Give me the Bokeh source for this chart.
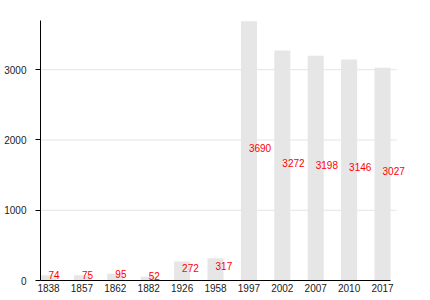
from bokeh.plotting import figure
from bokeh.models import Range1d, FixedTicker, ColumnDataSource
from bokeh.embed import file_html
from bokeh.resources import INLINE
from bokeh.core.properties import value

years = ["1838", "1857", "1862", "1882", "1926", "1958", "1997", "2002", "2007", "2010", "2017"]
population = [74, 75, 95, 52, 272, 317, 3690, 3272, 3198, 3146, 3027]
y_ticks = [0, 1000, 2000, 3000]
grid_levels = [1000, 2000, 3000]

idx = list(range(len(years)))
src = ColumnDataSource(dict(
    x=idx,
    top=population,
    mid=[v / 2 for v in population],
    lab=[str(v) for v in population],
))

x_lo, x_hi = -0.24, 10.24          # span of the category axis
p = figure(width=430, height=300, output_backend="svg", toolbar_location=None,
           x_range=Range1d(x_lo, 11.137), y_range=Range1d(0, 3700),
           min_border_left=40, min_border_right=10, min_border_top=20, min_border_bottom=20)
p.outline_line_color = None
p.background_fill_color = "white"
p.border_fill_color = "white"

# horizontal grid lines (limited to the axis span)
p.segment(x0=[x_lo] * len(grid_levels), x1=[10.42] * len(grid_levels),
          y0=grid_levels, y1=grid_levels, line_color="#e4e4e4", line_width=1)

p.vbar(x="x", top="top", width=0.48, bottom=0, source=src,
       fill_color="#e6e6e6", line_color=None)
p.text(x="x", y="mid", text="lab", source=src, text_color="#ff0000",
       text_font=value("Liberation Sans"), text_font_size="10px",
       text_align="left", text_baseline="middle", y_offset=-3)

p.xgrid.grid_line_color = None
p.ygrid.grid_line_color = None

p.xaxis.ticker = FixedTicker(ticks=idx)
p.xaxis.bounds = (x_lo, x_hi)
p.xaxis.major_label_overrides = {i: y for i, y in enumerate(years)}
p.xaxis.major_tick_out = 0
p.xaxis.major_tick_in = 0
p.xaxis.minor_tick_line_color = None
p.xaxis.major_label_standoff = 3
p.xaxis.axis_line_color = "black"

p.yaxis.ticker = FixedTicker(ticks=y_ticks)
p.yaxis.major_tick_out = 5
p.yaxis.major_tick_in = 0
p.yaxis.minor_tick_line_color = None
p.yaxis.major_label_standoff = 9
p.yaxis.axis_line_color = "black"

for ax in (p.xaxis, p.yaxis):
    ax.major_label_text_font = "Liberation Sans"
    ax.major_label_text_font_size = "10px"
    ax.major_label_text_color = "#222222"

open("out.html", "w").write(file_html(p, INLINE))
